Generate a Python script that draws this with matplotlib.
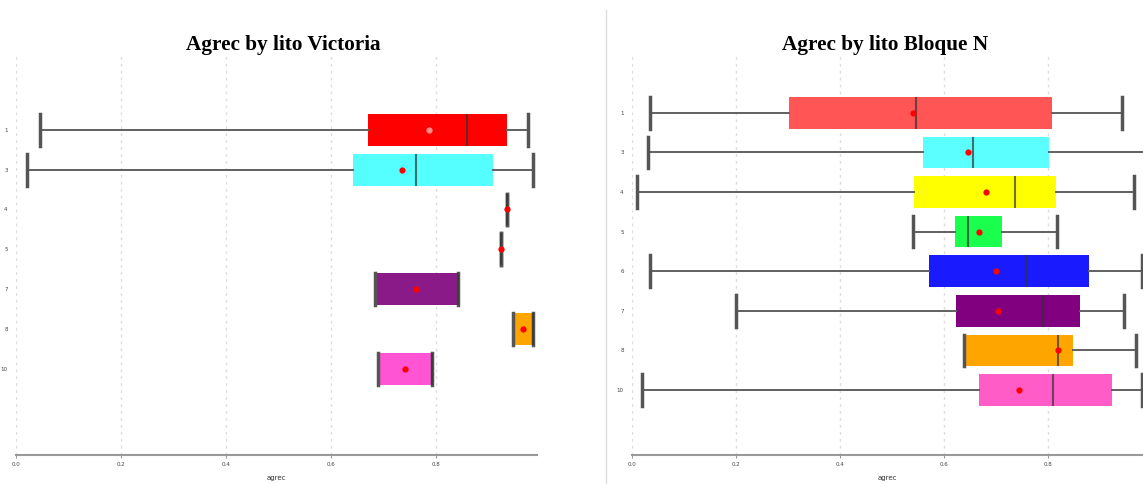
import matplotlib
matplotlib.use("Agg")
import matplotlib.pyplot as plt

# Agrec summary statistics per lito (min, q1, median, q3, max, mean)

vic_labels = ["1", "3", "4", "5", "7", "8", "10"]
vic_min    = [0.046, 0.021, 0.935, 0.924, 0.684, 0.947, 0.690]
vic_q1     = [0.670, 0.642, 0.935, 0.924, 0.684, 0.947, 0.690]
vic_med    = [0.859, 0.762, 0.935, 0.924, 0.842, 0.985, 0.792]
vic_q3     = [0.935, 0.909, 0.935, 0.924, 0.842, 0.985, 0.792]
vic_max    = [0.975, 0.985, 0.935, 0.924, 0.842, 0.985, 0.792]
vic_mean   = [0.787, 0.735, 0.935, 0.924, 0.762, 0.966, 0.741]
vic_colors = ["#ff0000", "#55ffff", "#ffff00", "#1aff4d", "#8b1a89", "#ffa500", "#ff55d4"]

bn_labels = ["1", "3", "4", "5", "6", "7", "8", "10"]
bn_min    = [0.035, 0.031, 0.010, 0.541, 0.035, 0.200, 0.638, 0.019]
bn_q1     = [0.302, 0.560, 0.542, 0.621, 0.571, 0.623, 0.638, 0.667]
bn_med    = [0.546, 0.656, 0.737, 0.646, 0.758, 0.790, 0.819, 0.810]
bn_q3     = [0.808, 0.802, 0.815, 0.712, 0.879, 0.862, 0.848, 0.923]
bn_max    = [0.942, 1.000, 0.965, 0.817, 0.981, 0.946, 0.969, 0.981]
bn_mean   = [0.540, 0.646, 0.681, 0.667, 0.700, 0.704, 0.819, 0.744]
bn_colors = ["#ff5555", "#5cffff", "#ffff00", "#1aff4d", "#1a1aff", "#800080", "#ffa500", "#ff5cc8"]

W, H = 1143, 484
fig = plt.figure(figsize=(W / 100, H / 100), dpi=100)


def px_axes(x0, x1, y0, y1):
    return fig.add_axes([x0 / W, 1 - y1 / H, (x1 - x0) / W, (y1 - y0) / H])


def draw_panel(ax, title, title_x, labels, mn, q1, med, q3, mx, mean, colors, xmax, ylim):
    stats = []
    for i in range(len(labels)):
        stats.append({"whislo": mn[i], "q1": q1[i], "med": med[i], "q3": q3[i],
                      "whishi": mx[i], "mean": mean[i], "fliers": []})
    pos = list(range(len(labels)))
    bp = ax.bxp(stats, positions=pos, vert=False, widths=0.8, capwidths=0.8,
                patch_artist=True, showmeans=True, manage_ticks=False,
                boxprops=dict(edgecolor="none", linewidth=0),
                whiskerprops=dict(color="#606060", linewidth=1.4),
                capprops=dict(color="#555555", linewidth=2.5),
                medianprops=dict(color="#333333", linewidth=1.5, alpha=0.7),
                meanprops=dict(marker="o", markerfacecolor="red",
                               markeredgecolor="none", markersize=4.5))
    for patch, c in zip(bp["boxes"], colors):
        patch.set_facecolor(c)
    for art, c in zip(bp["means"], colors):
        art.set_zorder(5)
        # a red mean on a red box is drawn lighter so it stays visible
        if c == "#ff0000":
            art.set_markerfacecolor("#ff8a8a")

    ax.set_xlim(0, xmax)
    ax.set_ylim(*ylim)
    ax.set_yticks(pos)
    ax.set_yticklabels(labels)
    ax.set_xticks([0.0, 0.2, 0.4, 0.6, 0.8])
    ax.set_xticklabels(["0.0", "0.2", "0.4", "0.6", "0.8"])
    ax.tick_params(axis="y", length=0, labelsize=4, labelcolor="#444444", pad=6)
    ax.tick_params(axis="x", length=2, width=0.8, color="#999999",
                   labelsize=4, labelcolor="#444444", pad=3)
    ax.grid(axis="x", linestyle=(0, (2, 3)), color="#dddddd", linewidth=1)
    ax.set_axisbelow(True)
    for s in ["top", "right", "left"]:
        ax.spines[s].set_visible(False)
    ax.spines["bottom"].set_color("#999999")
    ax.spines["bottom"].set_linewidth(1.5)
    ax.set_xlabel("agrec", fontsize=5, color="#333333", labelpad=6)
    fig.text(title_x / W, 1 - 45 / H, title,
             ha="center", va="center", fontsize=15.3, fontweight="bold",
             family="Liberation Serif")


ax1 = px_axes(16, 537, 53, 455)
draw_panel(ax1, "Agrec by lito Victoria", 283, vic_labels, vic_min, vic_q1, vic_med,
           vic_q3, vic_max, vic_mean, vic_colors, 0.992, (8.17, -1.93))

ax2 = px_axes(632, 1143, 55, 455)
draw_panel(ax2, "Agrec by lito Bloque N", 885, bn_labels, bn_min, bn_q1, bn_med,
           bn_q3, bn_max, bn_mean, bn_colors, 0.983, (8.64, -1.46))

# thin divider between the two panels
fig.add_artist(plt.Line2D([606 / W, 606 / W], [0, 1 - 10 / H],
                          color="#dddddd", linewidth=1))

fig.savefig("out.png", dpi=100)
